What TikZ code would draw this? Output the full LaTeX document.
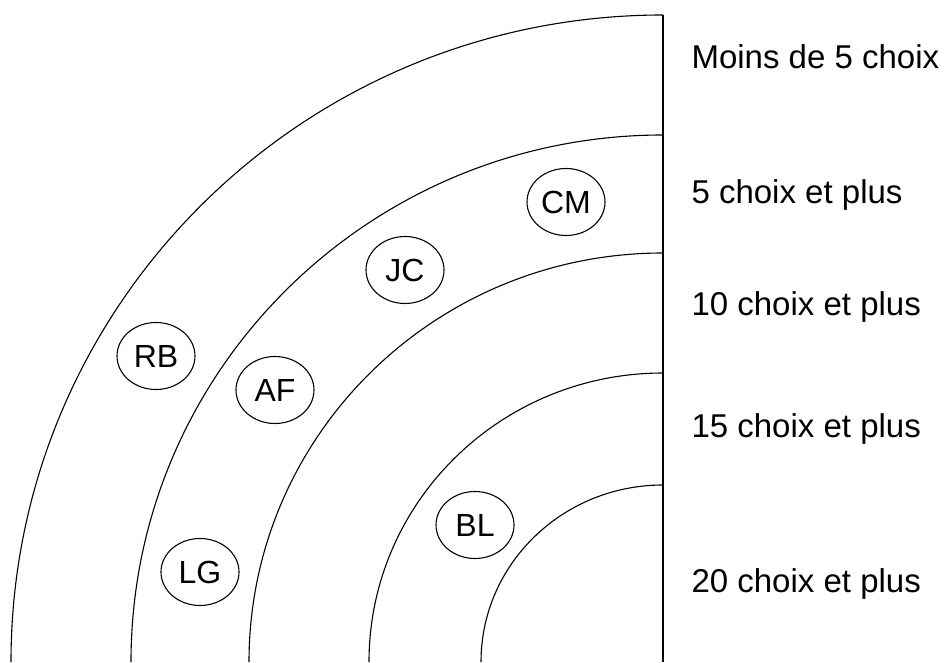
\documentclass[tikz,border=0pt]{standalone}
\usepackage{fontspec}
\setmainfont{Liberation Sans}
\usetikzlibrary{shapes.geometric}
\begin{document}
\begin{tikzpicture}[x=1pt,y=1pt,line width=1.1pt,
  person/.style={draw,ellipse,minimum width=78pt,minimum height=67pt,inner sep=0pt,font=\fontsize{32}{38}\selectfont},
  level/.style={anchor=base west,inner sep=0pt,font=\fontsize{33}{40}\selectfont}]
\useasboundingbox (0,0) rectangle (944,662);
\coordinate (c) at (663,0);
\coordinate (top) at (663,647);
\draw (c) -- (top);
\draw (663,647) arc[start angle=90,end angle=180,x radius=652pt,y radius=647pt];
\draw (663,527) arc[start angle=90,end angle=180,x radius=532pt,y radius=527pt];
\draw (663,409) arc[start angle=90,end angle=180,x radius=414pt,y radius=409pt];
\draw (663,289) arc[start angle=90,end angle=180,x radius=294pt,y radius=289pt];
\draw (663,177) arc[start angle=90,end angle=180,x radius=182pt,y radius=177pt];
\node[person] (CM) at (566,460) {CM};
\node[person] (JC) at (405,392) {JC};
\node[person] (RB) at (156,306) {RB};
\node[person] (AF) at (275,272) {AF};
\node[person] (LG) at (200,90) {LG};
\node[person] (BL) at (475,137) {BL};
\node[level] (l0) at (691,593) {Moins de 5 choix};
\node[level] (l5) at (691,458) {5 choix et plus};
\node[level] (l10) at (691,346) {10 choix et plus};
\node[level] (l15) at (691,225) {15 choix et plus};
\node[level] (l20) at (691,70) {20 choix et plus};
\end{tikzpicture}
\end{document}
